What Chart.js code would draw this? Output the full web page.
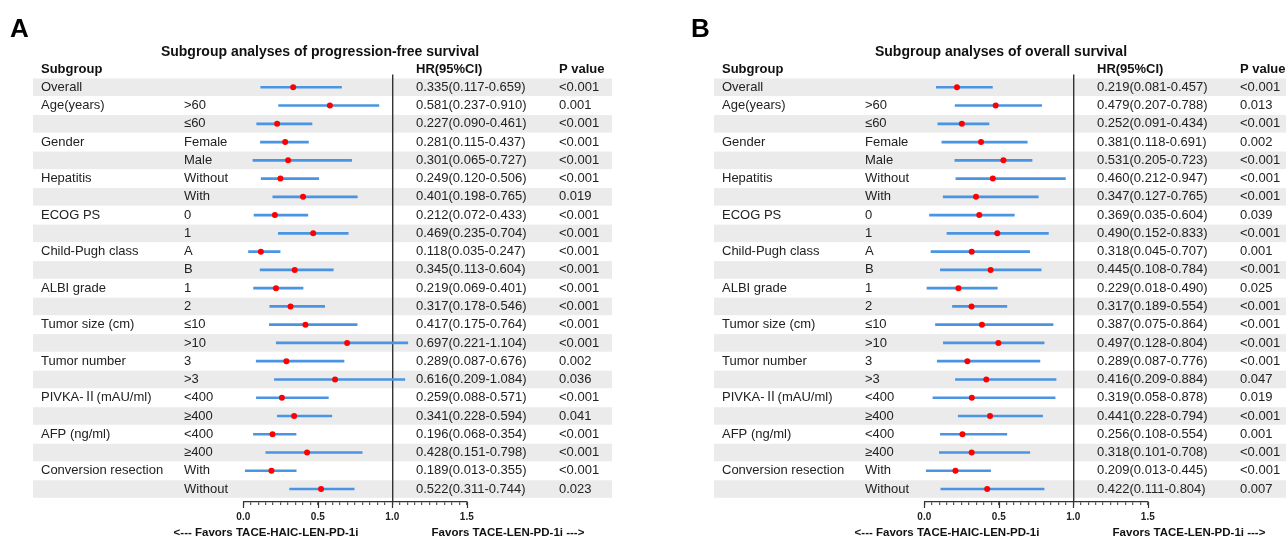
<!DOCTYPE html>
<html>
<head>
<meta charset="utf-8">
<script src="https://cdn.jsdelivr.net/npm/chart.js@4.4.1/dist/chart.umd.min.js"></script>
<style>
  body { margin: 0; background: #fff; width: 1286px; height: 539px; overflow: hidden; position: relative; }
  #wrapA { position: absolute; left: 0; top: 0; width: 681px; height: 539px; }
  #wrapB { position: absolute; left: 681px; top: 0; width: 605px; height: 539px; }
</style>
</head>
<body>
<div id="wrapA"><canvas id="chartA" width="681" height="539"></canvas></div>
<div id="wrapB"><canvas id="chartB" width="605" height="539"></canvas></div>
<script>
// row labels, same for both panels
var groups = ["Overall", "Age(years)", "", "Gender", "", "Hepatitis", "", "ECOG PS", "", "Child-Pugh class", "",
    "ALBI grade", "", "Tumor size (cm)", "", "Tumor number", "", "PIVKA-Ⅱ(mAU/ml)", "", "AFP (ng/ml)", "",
    "Conversion resection", ""];
var levels = ["", ">60", "≤60", "Female", "Male", "Without", "With", "0", "1", "A", "B", "1", "2",
    "≤10", ">10", "3", ">3", "<400", "≥400", "<400", "≥400", "With", "Without"];

// A: progression-free survival
var pfsHR = [0.335, 0.581, 0.227, 0.281, 0.301, 0.249, 0.401, 0.212, 0.469, 0.118, 0.345, 0.219, 0.317,
    0.417, 0.697, 0.289, 0.616, 0.259, 0.341, 0.196, 0.428, 0.189, 0.522];
var pfsLow = [0.117, 0.237, 0.090, 0.115, 0.065, 0.120, 0.198, 0.072, 0.235, 0.035, 0.113, 0.069, 0.178,
    0.175, 0.221, 0.087, 0.209, 0.088, 0.228, 0.068, 0.151, 0.013, 0.311];
var pfsHigh = [0.659, 0.910, 0.461, 0.437, 0.727, 0.506, 0.765, 0.433, 0.704, 0.247, 0.604, 0.401, 0.546,
    0.764, 1.104, 0.676, 1.084, 0.571, 0.594, 0.354, 0.798, 0.355, 0.744];
var pfsP = ["<0.001", "0.001", "<0.001", "<0.001", "<0.001", "<0.001", "0.019", "<0.001", "<0.001", "<0.001", "<0.001",
    "<0.001", "<0.001", "<0.001", "<0.001", "0.002", "0.036", "<0.001", "0.041", "<0.001", "<0.001", "<0.001", "0.023"];

// B: overall survival
var osHR = [0.219, 0.479, 0.252, 0.381, 0.531, 0.460, 0.347, 0.369, 0.490, 0.318, 0.445, 0.229, 0.317,
    0.387, 0.497, 0.289, 0.416, 0.319, 0.441, 0.256, 0.318, 0.209, 0.422];
var osLow = [0.081, 0.207, 0.091, 0.118, 0.205, 0.212, 0.127, 0.035, 0.152, 0.045, 0.108, 0.018, 0.189,
    0.075, 0.128, 0.087, 0.209, 0.058, 0.228, 0.108, 0.101, 0.013, 0.111];
var osHigh = [0.457, 0.788, 0.434, 0.691, 0.723, 0.947, 0.765, 0.604, 0.833, 0.707, 0.784, 0.490, 0.554,
    0.864, 0.804, 0.776, 0.884, 0.878, 0.794, 0.554, 0.708, 0.445, 0.804];
var osP = ["<0.001", "0.013", "<0.001", "0.002", "<0.001", "<0.001", "<0.001", "0.039", "<0.001", "0.001", "<0.001",
    "0.025", "<0.001", "<0.001", "<0.001", "<0.001", "0.047", "0.019", "<0.001", "0.001", "<0.001", "<0.001", "0.007"];

var xTicks = [0, 0.5, 1.0, 1.5];
var FONT = "'Liberation Sans', Arial, 'Noto Sans CJK SC', sans-serif";

function isMajor(v) {
    return xTicks.some(function (t) { return Math.abs(t - v) < 1e-6; });
}

function forestPlugin(letter, title, hr, low, high, pv, shadeRight) {
    return {
        id: "forestText",
        beforeDraw: function (chart) {
            var ctx = chart.ctx, ys = chart.scales.y;
            ctx.save();
            ctx.fillStyle = "#ebebeb";
            for (var i = 0; i < groups.length; i += 2) {
                var t = ys.getPixelForValue(i - 0.48), b = ys.getPixelForValue(i + 0.48);
                ctx.fillRect(33, t, shadeRight - 33, b - t);
            }
            ctx.restore();
        },
        afterDraw: function (chart) {
            var ctx = chart.ctx, ys = chart.scales.y, xs = chart.scales.x;
            var bottom = chart.chartArea.bottom;
            ctx.save();
            // longer ticks for the labelled values
            ctx.strokeStyle = "#333";
            ctx.lineWidth = 1.2;
            xTicks.forEach(function (v) {
                var x = Math.round(xs.getPixelForValue(v)) + 0.5;
                ctx.beginPath();
                ctx.moveTo(x, bottom);
                ctx.lineTo(x, bottom + 6);
                ctx.stroke();
            });

            ctx.textBaseline = "middle";
            ctx.fillStyle = "#000";
            ctx.font = "bold 26px " + FONT;
            ctx.textAlign = "left";
            ctx.fillText(letter, 10, 30);

            ctx.fillStyle = "#111";
            ctx.font = "bold 14px " + FONT;
            ctx.textAlign = "center";
            ctx.fillText(title, 320, 52);

            var hy = ys.getPixelForValue(-1);
            ctx.textAlign = "left";
            ctx.font = "bold 13px " + FONT;
            ctx.fillText("Subgroup", 41, hy);
            ctx.fillText("HR(95%CI)", 416, hy);
            ctx.fillText("P value", 559, hy);

            ctx.fillStyle = "#222";
            ctx.font = "13px " + FONT;
            for (var i = 0; i < groups.length; i++) {
                var y = ys.getPixelForValue(i);
                ctx.fillText(groups[i], 41, y);
                ctx.fillText(levels[i], 184, y);
                ctx.fillText(hr[i].toFixed(3) + "(" + low[i].toFixed(3) + "-" + high[i].toFixed(3) + ")", 416, y);
                ctx.fillText(pv[i], 559, y);
            }

            ctx.fillStyle = "#111";
            ctx.font = "bold 11.5px " + FONT;
            ctx.textAlign = "center";
            ctx.fillText("<--- Favors TACE-HAIC-LEN-PD-1i", 266, 533);
            ctx.fillText("Favors TACE-LEN-PD-1i --->", 508, 533);
            ctx.restore();
        }
    };
}

function makeForest(canvasId, letter, title, hr, low, high, pv) {
    var canvas = document.getElementById(canvasId);
    var W = canvas.width;
    var rows = hr.map(function (v, i) { return i; });
    new Chart(canvas.getContext("2d"), {
        type: "bar",
        data: {
            datasets: [
                {
                    type: "bar",
                    data: rows.map(function (i) { return { y: i, x: [low[i], high[i]] }; }),
                    backgroundColor: "#4a94e4",
                    barThickness: 2,
                    order: 2
                },
                {
                    type: "scatter",
                    data: rows.map(function (i) { return { x: hr[i], y: i }; }),
                    backgroundColor: "#ff0000",
                    borderColor: "#ff0000",
                    pointRadius: 3,
                    pointBorderWidth: 0,
                    order: 1
                }
            ]
        },
        options: {
            indexAxis: "y",
            responsive: false,
            animation: false,
            layout: { padding: { left: 243.3, right: W - 466.8, top: 74.5, bottom: 0 } },
            plugins: { legend: { display: false }, tooltip: { enabled: false } },
            scales: {
                y: {
                    type: "linear",
                    reverse: true,
                    offset: false,
                    grid: { offset: false },
                    min: -0.7,
                    max: 22.71,
                    display: false
                },
                x: {
                    type: "linear",
                    min: 0,
                    max: 1.5,
                    afterFit: function (s) { s.height = 37; },
                    border: { display: true, color: "#333", width: 1.3 },
                    grid: {
                        color: function (c) { return c.tick && Math.abs(c.tick.value - 1) < 1e-6 ? "#333" : "rgba(0,0,0,0)"; },
                        lineWidth: 1.4,
                        tickColor: "#333",
                        tickWidth: 1,
                        tickLength: 3
                    },
                    ticks: {
                        stepSize: 0.05,
                        autoSkip: false,
                        maxRotation: 0,
                        padding: 6,
                        color: "#222",
                        font: { family: FONT, size: 10, weight: "bold" },
                        callback: function (v) { return isMajor(v) ? Number(v).toFixed(1) : ""; }
                    }
                }
            }
        },
        plugins: [forestPlugin(letter, title, hr, low, high, pv, Math.min(W, 612))]
    });
}

makeForest("chartA", "A", "Subgroup analyses of progression-free survival", pfsHR, pfsLow, pfsHigh, pfsP);
makeForest("chartB", "B", "Subgroup analyses of overall survival", osHR, osLow, osHigh, osP);
</script>
</body>
</html>
